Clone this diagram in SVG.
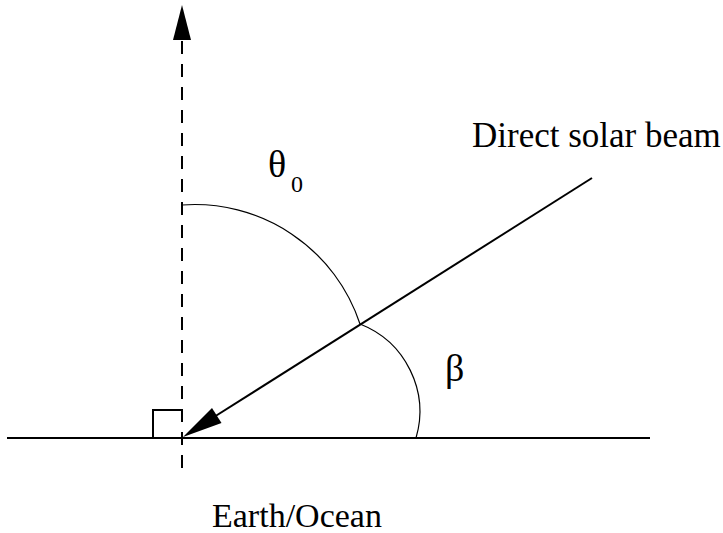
<svg xmlns="http://www.w3.org/2000/svg" width="723" height="533" viewBox="0 0 723 533">
<style>
.line{stroke:#000;stroke-width:2;fill:none}
.arc{stroke:#000;stroke-width:1.2;fill:none}
.lbl{font-family:"Liberation Serif","Times New Roman",serif;fill:#000}
</style>
<rect width="723" height="533" fill="#fff"/>
<g id="connectors">
<path id="zenith" class="line" d="M182,468 L182,38" stroke-dasharray="13 10"/>
<polygon points="182,5 173,40 191,40" fill="#000"/>
<path id="surface" class="line" d="M7,438 L650,438"/>
<path id="right-angle" class="line" d="M153,438 L153,410 L182,410"/>
<path id="beam" class="line" d="M592,178 L214,417"/>
<polygon points="183,437 221.5,423 212,408" fill="#000"/>
<path id="theta-arc" class="arc" d="M182,205 A174,174 0 0 1 360,324"/>
<path id="beta-arc" class="arc" d="M360,324 A94,94 0 0 1 416,438"/>
</g>
<g id="label-beam"><text class="lbl" x="472" y="147" font-size="35">Direct solar beam</text></g>
<g id="label-theta"><text class="lbl" x="268" y="177" font-size="38">θ</text><text class="lbl" x="291" y="192" font-size="24">0</text></g>
<g id="label-beta"><text class="lbl" x="445" y="381" font-size="38">β</text></g>
<g id="label-earth"><text class="lbl" x="212" y="527" font-size="34">Earth/Ocean</text></g>
</svg>
